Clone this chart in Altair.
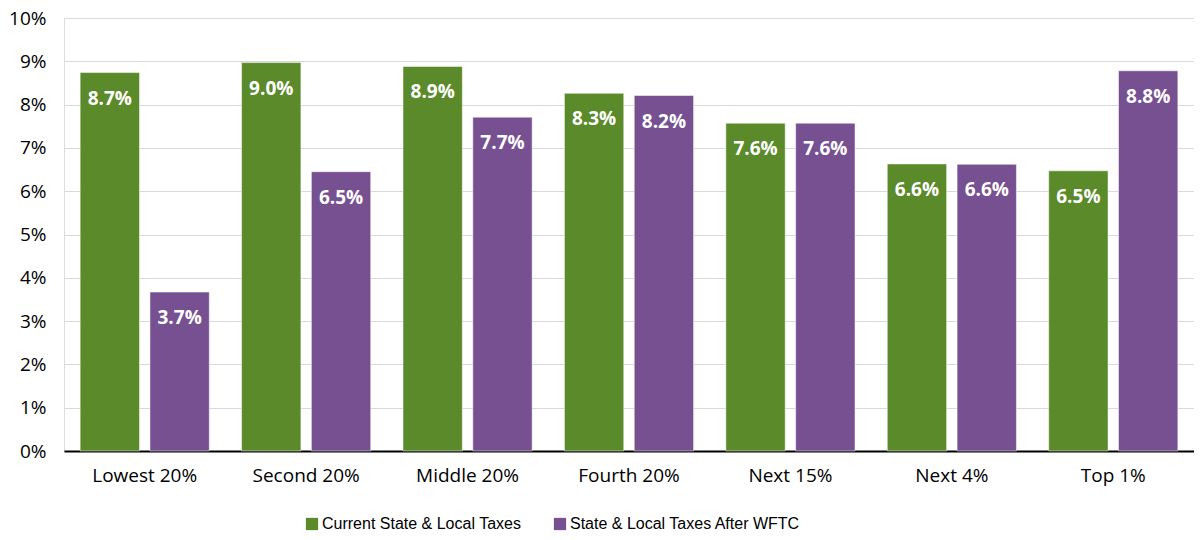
import altair as alt
import pandas as pd

categories = ["Lowest 20%", "Second 20%", "Middle 20%", "Fourth 20%", "Next 15%", "Next 4%", "Top 1%"]
series = ["Current State & Local Taxes", "State & Local Taxes After WFTC"]
current = [0.0874, 0.0897, 0.0888, 0.0826, 0.0757, 0.0663, 0.0647]
after = [0.0367, 0.0645, 0.0771, 0.0821, 0.0757, 0.0662, 0.0878]
colors = ["#5b8a2a", "#775092"]

rows = []
for c, a, b in zip(categories, current, after):
    rows.append({"cat": c, "series": series[0], "value": a})
    rows.append({"cat": c, "series": series[1], "value": b})
df = pd.DataFrame(rows)

FONT = "Open Sans"

x = alt.X("cat:N", sort=categories, title=None,
          scale=alt.Scale(paddingInner=0.2, paddingOuter=0.1),
          axis=alt.Axis(labelAngle=0, labelFontSize=19, labelFont=FONT, labelColor="#000000",
                        domainColor="#000000", domainWidth=2, ticks=False, labelPadding=15))
xo = alt.XOffset("series:N", sort=series, scale=alt.Scale(paddingInner=0.15))

base = alt.Chart(df)

bars = base.mark_bar(stroke="#ffffff", strokeWidth=0.5).encode(
    x=x,
    xOffset=xo,
    y=alt.Y("value:Q", title=None,
            scale=alt.Scale(domain=[0, 0.10]),
            axis=alt.Axis(format=".0%", values=[i / 100 for i in range(11)], labelFontSize=19,
                          labelFont=FONT, labelColor="#000000", domain=False, ticks=False,
                          gridColor="#d9d9d9", gridWidth=1, labelPadding=18)),
    color=alt.Color("series:N", sort=series, title=None,
                    scale=alt.Scale(domain=series, range=colors),
                    legend=alt.Legend(orient="none", legendX=240, legendY=498, direction="horizontal",
                                      symbolType="square", symbolSize=150, symbolStrokeWidth=0,
                                      labelFontSize=16, labelFont="Liberation Sans", labelColor="#000000",
                                      labelLimit=0, columnPadding=30, labelOffset=2)),
)

labels = base.mark_text(color="white", fontWeight="bold", fontSize=19, font=FONT,
                        baseline="middle", dy=26).encode(
    x=alt.X("cat:N", sort=categories),
    xOffset=alt.XOffset("series:N", sort=series),
    y="value:Q",
    text=alt.Text("value:Q", format=".1%"),
)

chart = (bars + labels).properties(
    width=1130, height=433,
    autosize=alt.AutoSizeParams(type="none"),
    padding={"left": 56, "top": 10, "right": 0, "bottom": 80},
).configure_view(stroke=None).configure(background="white")

chart.save("out.html", embed_options={"renderer": "svg", "actions": False})
